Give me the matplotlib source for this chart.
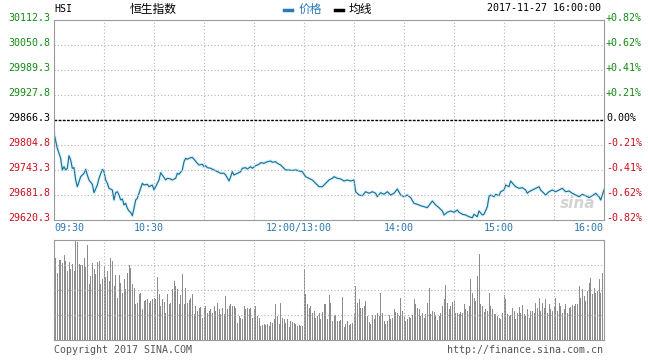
import numpy as np
import matplotlib
matplotlib.use('Agg')
import matplotlib.pyplot as plt
import matplotlib.transforms as mtransforms
from matplotlib.lines import Line2D

# trading minutes since 09:30 (12:00 and 13:00 share minute 150)
price_minutes = [
    0, 2, 4, 5, 6, 7, 8, 9, 10, 11,
    12, 13, 14, 16, 18, 19, 20, 21, 23, 24,
    26, 27, 29, 30, 31, 32, 33, 35, 36, 37,
    38, 39, 40, 41, 42, 43, 44, 45, 46, 47,
    48, 49, 50, 51, 53, 54, 56, 57, 59, 60,
    61, 63, 64, 65, 67, 68, 70, 71, 73, 74,
    75, 77, 78, 79, 80, 81, 83, 84, 86, 87,
    89, 90, 91, 92, 94, 96, 98, 100, 102, 103,
    105, 106, 107, 108, 110, 112, 113, 115, 116, 118,
    119, 121, 123, 124, 126, 128, 130, 131, 133, 134,
    136, 137, 139, 141, 143, 145, 147, 149, 151, 153,
    155, 157, 159, 161, 163, 165,
    167, 168, 170, 172, 174, 176, 178, 180, 181, 183,
    185, 187, 189, 191, 193, 194, 196, 198, 200, 202,
    204, 206, 208, 210, 212, 214, 216, 218, 220, 222,
    224, 226, 227, 229, 231, 233, 234, 236, 238, 240,
    242, 243, 245, 247, 249, 251, 252, 254, 255, 257,
    258, 260, 261, 262, 264, 265, 267, 268, 270, 271,
    273, 274, 276, 277, 279, 281, 283, 284, 285, 287,
    289, 291, 292, 294, 295, 297, 299, 301, 303, 305,
    307, 309, 311, 313, 315, 317, 319, 321, 323, 325,
    327, 328, 330,
]
prices = [
    29833.6, 29796.7, 29772.1, 29743.3, 29751.4, 29743.3, 29747.5, 29778.5, 29767.9, 29747.5,
    29749.0, 29718.7, 29702.2, 29726.8, 29735.2, 29745.0, 29731.0, 29718.7, 29708.1, 29687.5,
    29706.4, 29722.9, 29745.0, 29739.1, 29718.7, 29710.6, 29698.3, 29694.1, 29669.5, 29687.5,
    29689.9, 29681.8, 29669.5, 29672.0, 29657.2, 29661.4, 29649.1, 29642.5, 29639.3, 29630.9,
    29649.1, 29669.5, 29673.7, 29686.0, 29710.6, 29706.4, 29708.1, 29702.2, 29706.4, 29694.1,
    29702.2, 29718.7, 29736.7, 29731.0, 29718.7, 29722.9, 29721.2, 29718.7, 29722.9, 29735.2,
    29732.7, 29743.3, 29763.7, 29772.1, 29769.6, 29772.1, 29774.6, 29769.6, 29759.8, 29755.6,
    29757.3, 29751.4, 29753.9, 29749.0, 29747.5, 29743.3, 29739.1, 29735.2, 29735.2, 29731.0,
    29716.3, 29726.8, 29739.1, 29731.0, 29735.2, 29739.1, 29747.5, 29749.0, 29745.8, 29751.4,
    29747.5, 29753.9, 29757.3, 29761.3, 29759.8, 29763.7, 29765.5, 29762.3, 29763.7, 29759.8,
    29755.6, 29751.4, 29743.3, 29743.3, 29742.2, 29743.6, 29740.9, 29739.1, 29726.8, 29722.9,
    29718.7, 29710.6, 29702.2, 29702.2, 29710.6, 29718.7,
    29722.9, 29726.8, 29722.9, 29721.2, 29716.3, 29718.7, 29716.3, 29718.7, 29689.9, 29681.8,
    29680.1, 29689.9, 29686.0, 29689.9, 29686.0, 29677.6, 29687.5, 29683.5, 29689.9, 29681.8,
    29686.0, 29696.6, 29681.8, 29677.6, 29681.8, 29675.2, 29661.4, 29658.9, 29655.5, 29653.0,
    29650.6, 29661.4, 29667.1, 29657.2, 29650.6, 29642.5, 29632.6, 29639.3, 29642.5, 29639.3,
    29644.9, 29639.3, 29634.4, 29632.6, 29628.4, 29625.9, 29634.4, 29628.4, 29642.5, 29632.6,
    29634.4, 29653.0, 29677.6, 29681.8, 29677.6, 29683.5, 29680.1, 29689.9, 29694.1, 29706.4,
    29702.2, 29716.3, 29706.4, 29702.2, 29698.3, 29699.8, 29694.1, 29686.0, 29689.9, 29694.1,
    29698.3, 29702.2, 29694.1, 29686.0, 29681.8, 29689.9, 29694.1, 29689.9, 29694.1, 29698.3,
    29689.9, 29691.7, 29686.0, 29681.8, 29677.6, 29683.5, 29680.1, 29675.2, 29680.1, 29686.0,
    29677.6, 29669.5, 29694.1,
]

# one volume bar per trading minute (relative units, panel top = 100)
volumes = [
    80,
    82, 67, 80, 80, 77, 85, 79, 69, 78, 71,
    76, 69, 99, 98, 76, 75, 75, 82, 73, 95,
    56, 64, 77, 71, 66, 78, 79, 56, 61, 74,
    63, 69, 59, 82, 79, 54, 65, 42, 65, 57,
    47, 61, 51, 67, 75, 72, 56, 52, 36, 37,
    46, 47, 31, 39, 40, 41, 37, 39, 41, 42,
    41, 63, 46, 34, 41, 38, 27, 46, 36, 37,
    51, 59, 54, 51, 36, 45, 66, 36, 52, 37,
    40, 42, 46, 26, 34, 29, 32, 33, 22, 32,
    34, 27, 29, 31, 27, 34, 29, 37, 31, 26,
    32, 26, 44, 31, 34, 36, 34, 34, 32, 17,
    24, 22, 21, 34, 31, 32, 31, 32, 22, 31,
    34, 24, 22, 14, 15, 16, 15, 16, 14, 18,
    17, 21, 36, 24, 16, 37, 22, 21, 17, 21,
    13, 19, 18, 17, 16, 14, 15, 14, 14, 71,
    46, 36, 32, 34, 27, 29, 22, 24, 27, 21,
    28, 36,
    36, 21, 45, 37, 19, 25, 25, 19, 19, 20,
    43, 13, 16, 19, 15, 16, 17, 26, 54, 37,
    41, 32, 32, 34, 39, 24, 18, 16, 25, 21,
    25, 27, 24, 47, 27, 19, 16, 19, 25, 21,
    22, 31, 28, 27, 24, 42, 29, 24, 19, 21,
    23, 22, 25, 41, 36, 32, 31, 24, 27, 22,
    26, 37, 52, 26, 29, 28, 25, 20, 24, 27,
    34, 41, 55, 37, 31, 34, 38, 39, 27, 27,
    26, 28, 27, 36, 31, 29, 34, 61, 47, 42,
    39, 64, 86, 36, 34, 28, 31, 29, 47, 34,
    31, 26, 26, 24, 22, 21, 27, 45, 41, 26,
    24, 25, 32, 29, 21, 27, 33, 27, 35, 26,
    24, 31, 22, 29, 29, 27, 37, 32, 42, 29,
    37, 32, 41, 27, 36, 31, 29, 33, 42, 29,
    37, 34, 27, 31, 36, 27, 32, 33, 35, 34,
    36, 36, 54, 42, 51, 44, 39, 49, 57, 62,
    46, 52, 47, 49, 61, 47, 67, 96,
]

time_ticks = [0, 60, 150, 210, 270, 330]
time_labels = ['09:30', '10:30', '12:00/13:00', '14:00', '15:00', '16:00']
grid_minutes = list(range(30, 330, 30))

price_levels = [30112.3, 30050.8, 29989.3, 29927.8, 29866.3,
                29804.8, 29743.3, 29681.8, 29620.3]
pct_labels = ['+0.82%', '+0.62%', '+0.41%', '+0.21%', '0.00%',
              '-0.21%', '-0.41%', '-0.62%', '-0.82%']
prev_close = 29866.3

W, H = 648, 364
fig = plt.figure(figsize=(W / 100, H / 100), dpi=100)
ax = fig.add_axes([54 / W, (H - 220) / H, 550 / W, 200 / H])
axv = fig.add_axes([54 / W, (H - 340) / H, 550 / W, 100 / H])

mono = 'DejaVu Sans Mono'
cjk = ['Noto Sans CJK SC', 'DejaVu Sans']
green = '#138a13'
red = '#c8101e'
blue = '#2c78b0'
grid_kw = dict(color='#b5b5b5', lw=0.8, ls=(0, (1, 2)))

# price panel
ax.plot(price_minutes, prices, color='#def5fd', lw=2.6, solid_joinstyle='round')
ax.plot(price_minutes, prices, color='#1d6e98', lw=0.85)
ax.set_xlim(0, 330)
ax.set_ylim(price_levels[-1], price_levels[0])
for t in grid_minutes:
    ax.axvline(t, **grid_kw)
for p in price_levels[1:-1]:
    if p != prev_close:
        ax.axhline(p, **grid_kw)
ax.axhline(prev_close, color='black', lw=1.0, ls=(0, (2, 1)))
ax.set_xticks([])
ax.set_yticks([])
for s in ax.spines.values():
    s.set_color('#9a9a9a')

yt = mtransforms.blended_transform_factory(ax.transAxes, ax.transData)
left_tr = mtransforms.offset_copy(yt, fig=fig, x=-4, y=2, units='dots')
right_tr = mtransforms.offset_copy(yt, fig=fig, x=2, y=2, units='dots')
for p, lab in zip(price_levels, pct_labels):
    c = green if p > prev_close else (red if p < prev_close else 'black')
    ax.text(0, p, f'{p:.1f}', transform=left_tr, ha='right', va='center',
            fontsize=7.2, family=mono, color=c)
    ax.text(1, p, lab, transform=right_tr, ha='left', va='center',
            fontsize=7.2, family=mono, color=c)

xt = mtransforms.blended_transform_factory(ax.transData, ax.transAxes)
for i, (t, lab) in enumerate(zip(time_ticks, time_labels)):
    if i == 0:
        ha, dx = 'left', 0
    elif i == len(time_ticks) - 1:
        ha, dx = 'right', 0
    else:
        ha, dx = 'center', -5
    tr = mtransforms.offset_copy(xt, fig=fig, x=dx, y=-8, units='dots')
    ax.text(t, 0, lab, transform=tr, ha=ha, va='center', fontsize=7.2,
            family=mono, color=blue)

# volume panel
axv.bar(np.arange(len(volumes)), volumes, width=0.6, color='#8c8c8c', linewidth=0)
axv.set_xlim(0, 330)
axv.set_ylim(0, 100)
for t in grid_minutes:
    axv.axvline(t, **grid_kw)
for v in (25, 50, 75):
    axv.axhline(v, **grid_kw)
axv.set_xticks([])
axv.set_yticks([])
for s in axv.spines.values():
    s.set_color('#9a9a9a')

# header
def px(x, y):
    return x / W, 1 - y / H

fig.text(*px(54, 9), 'HSI', fontsize=7.2, family=mono, va='center', ha='left')
fig.text(*px(130, 9.5), '恒生指数', fontsize=8.5, family=cjk, va='center', ha='left')
fig.add_artist(Line2D([284 / W, 292 / W], [1 - 10 / H] * 2, color='#2a7ab8', lw=2.5))
fig.text(*px(299, 9.5), '价格', fontsize=8.5, family=cjk, va='center', ha='left', color='#2a7ab8')
fig.add_artist(Line2D([335 / W, 343 / W], [1 - 10 / H] * 2, color='black', lw=2.5))
fig.text(*px(349, 9.5), '均线', fontsize=8.5, family=cjk, va='center', ha='left')
fig.text(*px(487, 8), '2017-11-27 16:00:00', fontsize=7.2, family=mono, va='center', ha='left')

# footer
fig.text(*px(54, 350), 'Copyright 2017 SINA.COM', fontsize=7.2, family=mono,
         va='center', ha='left', color='#555555')
fig.text(*px(603, 350), 'http://finance.sina.com.cn', fontsize=7.2, family=mono,
         va='center', ha='right', color='#555555')

# watermark
fig.text(*px(578, 204), 'sina', fontsize=11, style='italic', weight='bold',
         color='#cfcfcf', va='center', ha='center', alpha=0.9)

fig.savefig('out.png', dpi=100)
